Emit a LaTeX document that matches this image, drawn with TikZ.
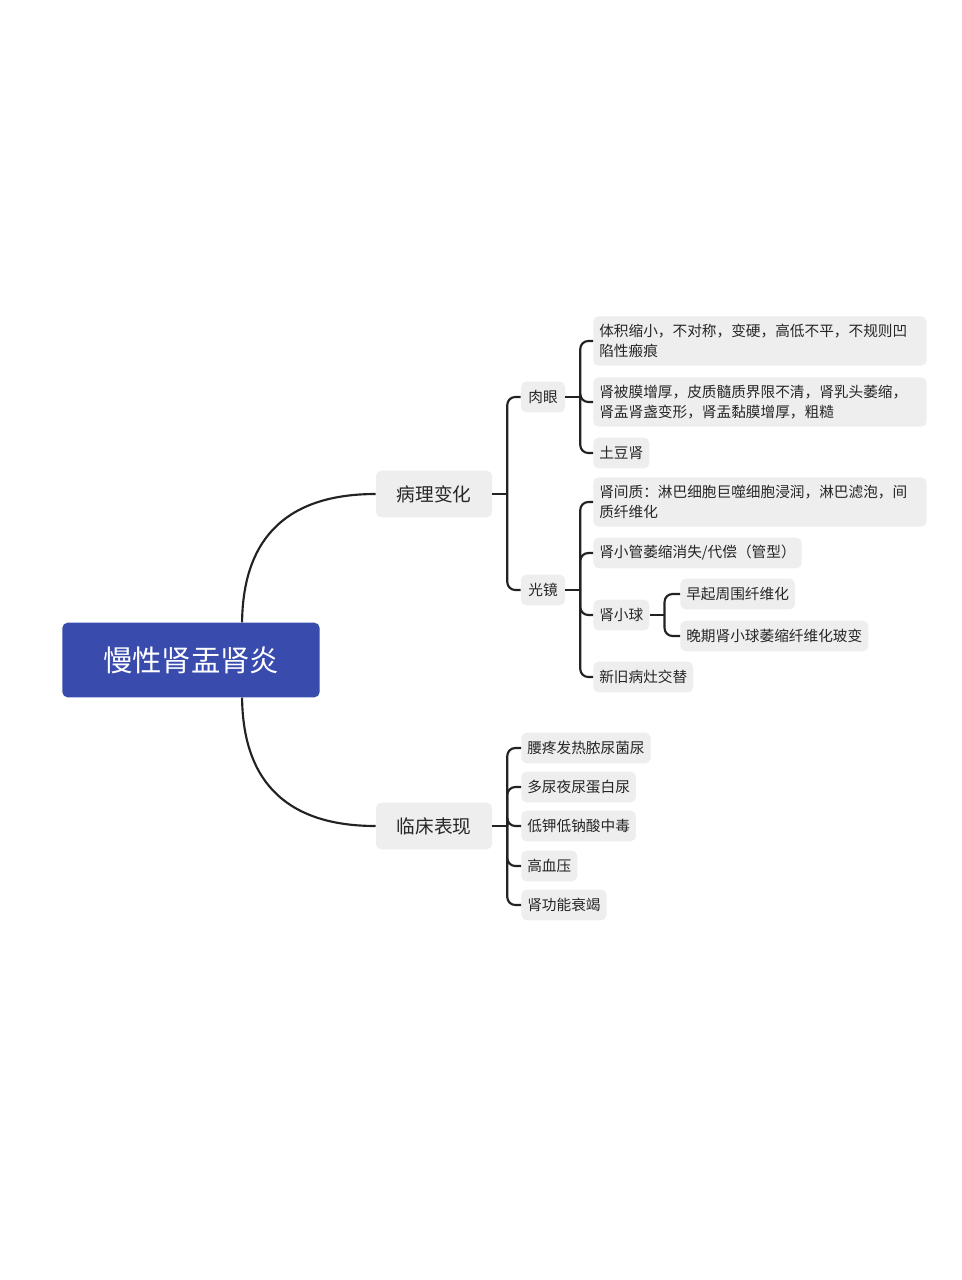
\documentclass[tikz,border=0pt]{standalone}
\usepackage{fontspec}
\setmainfont{Noto Sans CJK SC}
\definecolor{rootc}{HTML}{3A4BAE}
\definecolor{boxc}{HTML}{EEEEEE}
\definecolor{linec}{HTML}{222222}
\begin{document}
\begin{tikzpicture}[x=0.75pt,y=-0.75pt,
  lk/.style={draw=linec,line width=1.6pt,rounded corners=6pt},
  l1/.style={fill=boxc,rounded corners=4pt,minimum width=87pt,minimum height=35pt,font=\fontsize{14}{16}\selectfont,text=black!85},
  l2/.style={fill=boxc,rounded corners=4pt,minimum width=33pt,minimum height=23pt,font=\fontsize{11}{13}\selectfont,text=black!85,inner sep=3pt},
  lf/.style={fill=boxc,rounded corners=4pt,minimum height=23pt,font=\fontsize{11}{13}\selectfont,text=black!85,inner sep=4.5pt,anchor=west},
  lw/.style={lf,text width=241pt,align=left,minimum height=37pt,font=\fontsize{11}{15}\selectfont}]
\useasboundingbox[fill=white] (0,0) rectangle (961,1280);
\node[fill=rootc,rounded corners=4pt,minimum width=193pt,minimum height=56pt,text=white,font=\fontsize{22}{26}\selectfont] (root) at (191,660) {慢性肾盂肾炎};
\node[l1] (bl) at (434,494) {病理变化};
\node[l1] (lc) at (434,826) {临床表现};
\draw[lk] ([xshift=135pt]root.north west) .. controls (243,535) and (290,494) .. (bl.west);
\draw[lk] ([xshift=135pt]root.south west) .. controls (243,785) and (290,826) .. (lc.west);
\node[l2] (ry) at (543,397) {肉眼};
\node[l2] (gj) at (543,590) {光镜};
\draw[lk] (bl.east) -- ++(15,0) coordinate (b1);
\foreach \c in {ry,gj} \draw[lk] (b1) |- (\c.west);
\node[lw] (a1) at (593,341) {体积缩小，不对称，变硬，高低不平，不规则凹\\陷性瘢痕};
\node[lw] (a2) at (593,402) {肾被膜增厚，皮质髓质界限不清，肾乳头萎缩，\\肾盂肾盏变形，肾盂黏膜增厚，粗糙};
\node[lf] (a3) at (593,453) {土豆肾};
\draw[lk] (ry.east) -- ++(15,0) coordinate (b2);
\foreach \c in {a1,a2,a3} \draw[lk] (b2) |- (\c.west);
\node[lw] (g1) at (593,502) {肾间质：淋巴细胞巨噬细胞浸润，淋巴滤泡，间\\质纤维化};
\node[lf] (g2) at (593,553) {肾小管萎缩消失/代偿（管型）};
\node[lf] (g3) at (593,615) {肾小球};
\node[lf] (g4) at (593,677) {新旧病灶交替};
\draw[lk] (gj.east) -- ++(15,0) coordinate (b3);
\foreach \c in {g1,g2,g3,g4} \draw[lk] (b3) |- (\c.west);
\node[lf] (q1) at (680,594) {早起周围纤维化};
\node[lf] (q2) at (680,636) {晚期肾小球萎缩纤维化玻变};
\draw[lk] (g3.east) -- ++(15,0) coordinate (b4);
\foreach \c in {q1,q2} \draw[lk] (b4) |- (\c.west);
\node[lf] (c1) at (521,748) {腰疼发热脓尿菌尿};
\node[lf] (c2) at (521,787) {多尿夜尿蛋白尿};
\node[lf] (c3) at (521,826) {低钾低钠酸中毒};
\node[lf] (c4) at (521,866) {高血压};
\node[lf] (c5) at (521,905) {肾功能衰竭};
\draw[lk] (lc.east) -- ++(15,0) coordinate (b5);
\foreach \c in {c1,c2,c3,c4,c5} \draw[lk] (b5) |- (\c.west);
\end{tikzpicture}
\end{document}
